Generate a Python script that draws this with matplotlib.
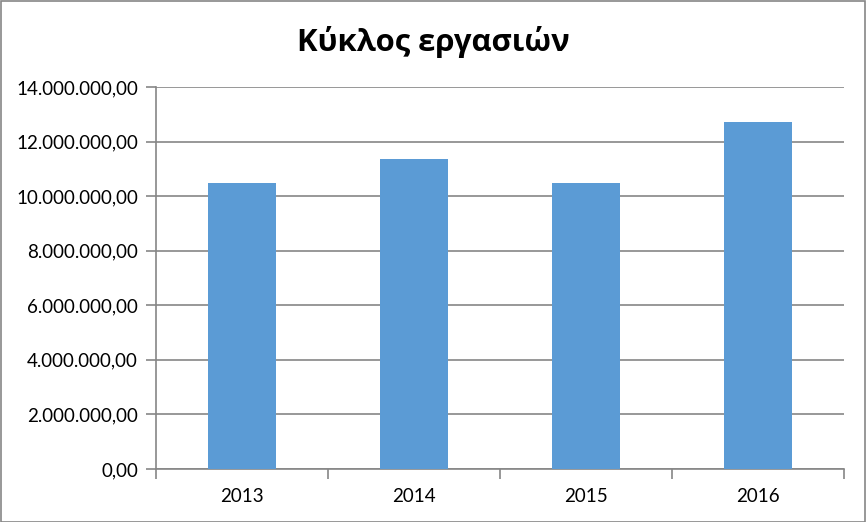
import matplotlib
matplotlib.use("Agg")
import matplotlib.pyplot as plt
from matplotlib.ticker import FuncFormatter
from matplotlib.patches import Rectangle

years = ["2013", "2014", "2015", "2016"]
turnover = [10490000, 11370000, 10490000, 12710000]
title = "Κύκλος εργασιών"

W, H = 866, 522
fig = plt.figure(figsize=(W / 100, H / 100), dpi=100)
ax = fig.add_axes([156 / W, 1 - 469 / H, (844 - 156) / W, (469 - 87) / H])

x = range(len(years))
ax.bar(x, turnover, width=0.4, color="#5B9BD5", zorder=3)
ax.set_xlim(-0.5, len(years) - 0.5)
ax.set_ylim(0, 14000000)
ax.set_yticks(range(0, 14000001, 2000000))

def fmt(v, pos):
    s = f"{int(round(v)):,}".replace(",", ".")
    return s + ",00"

ax.yaxis.set_major_formatter(FuncFormatter(fmt))
ax.set_xticks(list(x))
ax.set_xticklabels(years)
ax.set_xticks([i + 0.5 for i in range(-1, len(years))], minor=True)

ax.grid(axis="y", color="#868686", linewidth=1.2, zorder=0)
for s in ["top", "right"]:
    ax.spines[s].set_visible(False)
for s in ["left", "bottom"]:
    ax.spines[s].set_color("#868686")
    ax.spines[s].set_linewidth(1.2)

ax.tick_params(axis="y", length=7, color="#868686", width=1.2, labelsize=13.5, pad=6, labelcolor="black")
ax.tick_params(axis="x", which="major", length=0, labelsize=13.5, pad=14, labelcolor="black")
ax.tick_params(axis="x", which="minor", length=7, color="#868686", width=1.2)
for lab in ax.get_xticklabels() + ax.get_yticklabels():
    lab.set_family(["Lato", "DejaVu Sans"])

fig.text(0.5, 1 - 42 / H, title, ha="center", va="center", fontsize=22.3,
         fontweight="bold", family=["Open Sans", "DejaVu Sans"])

fig.patches.append(Rectangle((0.5 / W, 0.5 / H), 1 - 1.5 / W, 1 - 1.5 / H,
                             transform=fig.transFigure, fill=False,
                             edgecolor="#868686", linewidth=1.2))

fig.savefig("out.png", dpi=100)
